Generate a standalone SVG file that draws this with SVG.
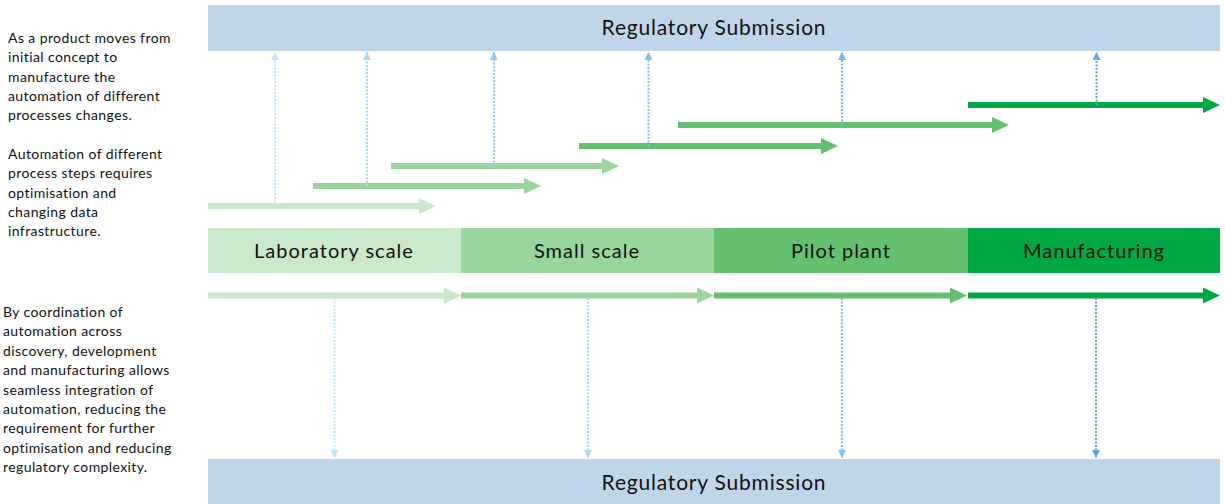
<svg xmlns="http://www.w3.org/2000/svg" width="1225" height="504" viewBox="0 0 1225 504">
  <style>
    .note { font-family: Lato, "Liberation Sans", sans-serif; font-size: 14px; letter-spacing: 0.4px; fill: #111; }
    .label { font-family: Lato, "Liberation Sans", sans-serif; font-size: 20px; letter-spacing: 1px; fill: #111; text-anchor: middle; }
    .reg-label { font-size: 21px; letter-spacing: 0.8px; }
    .reg { fill: #bfd6ea; }
    .dot { fill: none; stroke-width: 2; stroke-dasharray: 2 1.5; }
    .c1 { stroke: #c5e5fa; } .c2 { stroke: #a9d7f4; } .c3 { stroke: #98cdf0; }
    .c4 { stroke: #7fc0ec; } .c5 { stroke: #70b7e8; } .c6 { stroke: #5aaae2; }
  </style>
  <defs>
    <marker id="h1" viewBox="0 0 8 8" refX="8" refY="4" markerWidth="8" markerHeight="8" markerUnits="userSpaceOnUse" orient="auto"><path d="M0,0 L8,4 L0,8 Z" fill="#c5e5fa"/></marker>
    <marker id="h2" viewBox="0 0 8 8" refX="8" refY="4" markerWidth="8" markerHeight="8" markerUnits="userSpaceOnUse" orient="auto"><path d="M0,0 L8,4 L0,8 Z" fill="#a9d7f4"/></marker>
    <marker id="h3" viewBox="0 0 8 8" refX="8" refY="4" markerWidth="8" markerHeight="8" markerUnits="userSpaceOnUse" orient="auto"><path d="M0,0 L8,4 L0,8 Z" fill="#98cdf0"/></marker>
    <marker id="h4" viewBox="0 0 8 8" refX="8" refY="4" markerWidth="8" markerHeight="8" markerUnits="userSpaceOnUse" orient="auto"><path d="M0,0 L8,4 L0,8 Z" fill="#7fc0ec"/></marker>
    <marker id="h5" viewBox="0 0 8 8" refX="8" refY="4" markerWidth="8" markerHeight="8" markerUnits="userSpaceOnUse" orient="auto"><path d="M0,0 L8,4 L0,8 Z" fill="#70b7e8"/></marker>
    <marker id="h6" viewBox="0 0 8 8" refX="8" refY="4" markerWidth="8" markerHeight="8" markerUnits="userSpaceOnUse" orient="auto"><path d="M0,0 L8,4 L0,8 Z" fill="#5aaae2"/></marker>
  </defs>
  <rect width="1225" height="504" fill="#ffffff"/>

  <!-- explanatory notes -->
  <g id="notes">
    <text class="note" x="8" y="43">As a product moves from</text>
    <text class="note" x="8" y="62.3">initial concept to</text>
    <text class="note" x="8" y="81.6">manufacture the</text>
    <text class="note" x="8" y="100.9">automation of different</text>
    <text class="note" x="8" y="120.2">processes changes.</text>
    <text class="note" x="8" y="159">Automation of different</text>
    <text class="note" x="8" y="178.3">process steps requires</text>
    <text class="note" x="8" y="197.6">optimisation and</text>
    <text class="note" x="8" y="216.9">changing data</text>
    <text class="note" x="8" y="236.2">infrastructure.</text>
    <text class="note" x="3" y="317">By coordination of</text>
    <text class="note" x="3" y="336.4">automation across</text>
    <text class="note" x="3" y="355.8">discovery, development</text>
    <text class="note" x="3" y="375.2">and manufacturing allows</text>
    <text class="note" x="3" y="394.6">seamless integration of</text>
    <text class="note" x="3" y="414">automation, reducing the</text>
    <text class="note" x="3" y="433.4">requirement for further</text>
    <text class="note" x="3" y="452.8">optimisation and reducing</text>
    <text class="note" x="3" y="472.2">regulatory complexity.</text>
  </g>

  <!-- regulatory submission bars -->
  <g id="reg-top">
    <rect class="reg" x="208" y="5" width="1012" height="46"/>
    <text class="label reg-label" x="714" y="35">Regulatory Submission</text>
  </g>
  <g id="reg-bottom">
    <rect class="reg" x="208" y="459" width="1012" height="45"/>
    <text class="label reg-label" x="714" y="490">Regulatory Submission</text>
  </g>

  <!-- scale stages -->
  <g id="stage-lab">
    <rect x="208" y="228" width="253" height="45" fill="#c9e9ca"/>
    <text class="label" x="334" y="258">Laboratory scale</text>
  </g>
  <g id="stage-small">
    <rect x="461" y="228" width="253" height="45" fill="#99d69b"/>
    <text class="label" x="587" y="258">Small scale</text>
  </g>
  <g id="stage-pilot">
    <rect x="714" y="228" width="254" height="45" fill="#63c06f"/>
    <text class="label" x="841" y="258">Pilot plant</text>
  </g>
  <g id="stage-manufacturing">
    <rect x="968" y="228" width="252" height="45" fill="#00a843"/>
    <text class="label" x="1094" y="258">Manufacturing</text>
  </g>

  <g id="connectors">
    <!-- staggered automation arrows -->
    <path d="M208,203 H419 V198 L436,206 L419,214 V209 H208 Z" fill="#c9e9ca"/>
    <path d="M313,183 H524 V178 L541,186 L524,194 V189 H313 Z" fill="#99d69b"/>
    <path d="M391,163 H602 V158 L619,166 L602,174 V169 H391 Z" fill="#99d69b"/>
    <path d="M579,143 H821 V138 L838,146 L821,154 V149 H579 Z" fill="#63c06f"/>
    <path d="M678,122 H992 V117 L1009,125 L992,133 V128 H678 Z" fill="#63c06f"/>
    <path d="M968,102 H1203 V97 L1220,105 L1203,113 V108 H968 Z" fill="#00a843"/>

    <!-- coordinated stage arrows -->
    <path d="M208,292.5 H444 V287.5 L461,295.5 L444,303.5 V298.5 H208 Z" fill="#c9e9ca"/>
    <path d="M461,292.5 H697 V287.5 L714,295.5 L697,303.5 V298.5 H461 Z" fill="#99d69b"/>
    <path d="M714,292.5 H950 V287.5 L967,295.5 L950,303.5 V298.5 H714 Z" fill="#63c06f"/>
    <path d="M968,292.5 H1203 V287.5 L1220,295.5 L1203,303.5 V298.5 H968 Z" fill="#00a843"/>

    <!-- dotted links up to submission -->
    <line class="dot c1" x1="275" y1="206" x2="275" y2="52" marker-end="url(#h1)"/>
    <line class="dot c2" x1="367" y1="186" x2="367" y2="52" marker-end="url(#h2)"/>
    <line class="dot c3" x1="494" y1="166" x2="494" y2="52" marker-end="url(#h3)"/>
    <line class="dot c4" x1="648.5" y1="146" x2="648.5" y2="52" marker-end="url(#h4)"/>
    <line class="dot c5" x1="842" y1="125" x2="842" y2="52" marker-end="url(#h5)"/>
    <line class="dot c6" x1="1096.5" y1="105" x2="1096.5" y2="52" marker-end="url(#h6)"/>

    <!-- dotted links down to submission -->
    <line class="dot c1" x1="334.5" y1="298" x2="334.5" y2="458" marker-end="url(#h1)"/>
    <line class="dot c2" x1="588" y1="298" x2="588" y2="458" marker-end="url(#h2)"/>
    <line class="dot c4" x1="842" y1="298" x2="842" y2="458" marker-end="url(#h4)"/>
    <line class="dot c6" x1="1096" y1="298" x2="1096" y2="458" marker-end="url(#h6)"/>
  </g>
</svg>
